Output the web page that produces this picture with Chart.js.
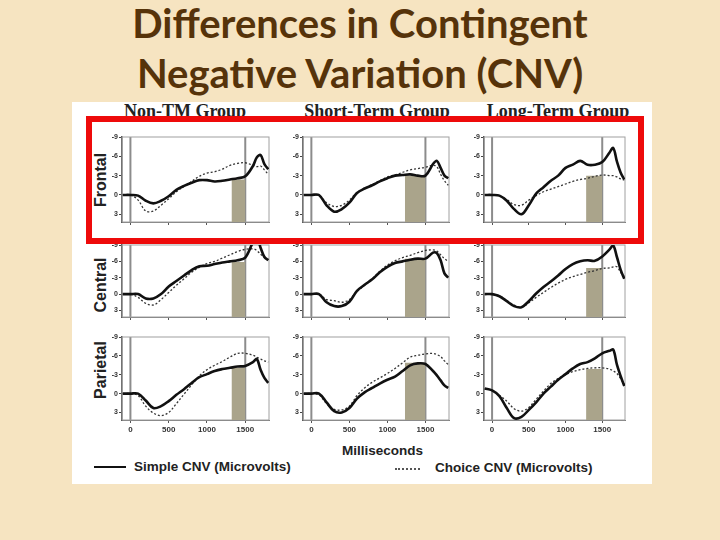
<!DOCTYPE html>
<html>
<head>
<meta charset="utf-8">
<script src="https://cdn.jsdelivr.net/npm/chart.js@4.4.7/dist/chart.umd.min.js"></script>
<style>
  body { margin: 0; width: 720px; height: 540px; background: #f6e4c1; position: relative; overflow: hidden; font-family: "Liberation Sans", Arial, sans-serif; }
  .title { position: absolute; left: 0; width: 720px; text-align: center; font-family: Lato, "Open Sans", sans-serif; font-weight: 700; font-size: 40px; color: #56330a; line-height: 46px; }
  #sheet { position: absolute; left: 72px; top: 102px; width: 580px; height: 382px; background: #fff; }
  .grp { position: absolute; top: 101px; font-family: "Liberation Serif", "Times New Roman", serif; font-weight: 700; font-size: 18px; color: #222; text-align: center; width: 190px; }
  .reg { position: absolute; font-weight: 700; font-size: 16px; color: #222; transform: translate(-50%, -50%) rotate(-90deg); white-space: nowrap; }
  .panel { position: absolute; }
  #redbox { position: absolute; left: 86px; top: 116px; width: 546px; height: 116px; border: 6px solid #ee0a0a; }
  .small { position: absolute; font-weight: 700; font-size: 13.5px; color: #222; white-space: nowrap; }
</style>
</head>
<body>
<div class="title" style="top:0px">Differences in Contingent</div>
<div class="title" style="top:50px">Negative Variation (CNV)</div>
<div id="sheet"></div>
<div id="heads"></div>
<div id="panels"></div>
<div class="small" style="left:342px; top:443px">Milliseconds</div>
<div style="position:absolute; left:94px; top:466px; width:32px; border-top:2px solid #111"></div>
<div class="small" style="left:134px; top:459px">Simple CNV (Microvolts)</div>
<div style="position:absolute; left:395px; top:468px; width:25px; border-top:2px dotted #555"></div>
<div class="small" style="left:435px; top:460px">Choice CNV (Microvolts)</div>
<div id="redbox"></div>
<script>
const times = [-100, 0, 100, 200, 300, 400, 500, 600, 700, 800, 900, 1000, 1100, 1200, 1300, 1400, 1500, 1600, 1650, 1700, 1750, 1800];
const groups = ["Non-TM Group", "Short-Term Group", "Long-Term Group"];
const regions = ["Frontal", "Central", "Parietal"];
const yTicks = [-9, -6, -3, 0, 3];
const xTicks = [0, 500, 1000, 1500];
const markerTimes = [0, 1500];

// Frontal
const nonTmFrontalSimple = [0, 0, 0.1, 0.9, 1.3, 0.9, 0.2, -0.8, -1.4, -1.9, -2.3, -2.3, -2.1, -2.2, -2.4, -2.6, -2.9, -4.5, -5.8, -6.2, -4.8, -4.0];
const nonTmFrontalChoice = [0, 0, 0.8, 2.5, 2.5, 1.6, 0.6, -0.5, -1.3, -2.1, -2.9, -3.4, -3.6, -4.0, -4.6, -4.9, -5.0, -4.6, -4.4, -4.5, -3.9, -3.2];
const shortFrontalSimple = [0, 0, 0, 1.6, 2.6, 2.2, 1.2, -0.3, -1.0, -1.5, -2.1, -2.6, -3.0, -3.1, -3.2, -3.0, -3.0, -4.8, -5.3, -4.2, -3.0, -2.6];
const shortFrontalChoice = [0, 0, 0.1, 1.2, 1.8, 1.6, 0.8, -0.4, -1.0, -1.6, -2.2, -2.8, -3.1, -3.5, -3.9, -4.1, -4.3, -4.6, -4.4, -3.2, -2.2, -1.5];
const longFrontalSimple = [0, 0, 0.1, 0.9, 2.2, 3.0, 1.6, -0.2, -1.2, -2.2, -3.0, -4.2, -4.7, -5.3, -4.7, -4.7, -5.1, -6.6, -7.3, -5.2, -3.5, -2.4];
const longFrontalChoice = [0, 0, 0.1, 0.7, 1.5, 1.6, 0.8, 0.1, -0.5, -0.9, -1.3, -1.7, -2.1, -2.4, -2.6, -2.9, -3.1, -3.0, -3.0, -2.8, -2.5, -2.3];
// Central
const nonTmCentralSimple = [0, 0, 0, 0.8, 0.8, 0.0, -1.4, -2.4, -3.4, -4.4, -5.1, -5.2, -5.5, -5.8, -6.0, -6.2, -6.7, -9.5, -10.5, -8.5, -6.8, -6.2];
const nonTmCentralChoice = [0, 0, 0.6, 1.7, 2.0, 1.0, -0.3, -1.6, -2.8, -4.0, -4.9, -5.6, -6.0, -6.6, -7.2, -7.8, -8.2, -8.3, -8.0, -7.3, -6.8, -6.5];
const shortCentralSimple = [0, 0, 0, 1.5, 2.2, 2.2, 1.4, -0.6, -1.7, -2.7, -4.0, -5.0, -5.7, -6.0, -6.3, -6.5, -6.5, -7.6, -7.5, -6.2, -3.8, -3.0];
const shortCentralChoice = [0, 0, 0, 1.0, 1.2, 1.5, 1.0, -0.5, -1.6, -2.8, -4.2, -5.3, -6.1, -6.7, -7.1, -7.6, -8.0, -8.1, -7.9, -7.2, -6.5, -6.0];
const longCentralSimple = [0, 0, 0.4, 1.3, 2.2, 2.4, 1.3, -0.1, -1.3, -2.3, -3.4, -4.6, -5.5, -6.0, -6.2, -6.1, -6.9, -8.2, -8.9, -6.8, -4.5, -2.8];
const longCentralChoice = [0, 0, 0.3, 1.2, 2.0, 2.4, 1.6, 0.6, -0.3, -1.2, -2.0, -2.7, -3.2, -3.6, -4.0, -4.3, -4.7, -4.8, -5.0, -5.0, -4.0, -3.2];
// Parietal
const nonTmParietalSimple = [0, 0, 0, 1.1, 2.3, 2.0, 1.2, 0.2, -0.7, -1.7, -2.6, -3.1, -3.6, -3.9, -4.1, -4.3, -4.4, -5.0, -5.5, -3.8, -2.5, -1.7];
const nonTmParietalChoice = [0, 0, 0.3, 2.0, 3.1, 3.5, 3.0, 1.6, 0.1, -1.4, -2.8, -3.8, -4.5, -5.1, -5.8, -6.4, -6.4, -6.1, -5.8, -5.5, -5.2, -5.0];
const shortParietalSimple = [0, 0, 0, 1.4, 2.8, 3.0, 2.3, 0.8, -0.2, -0.9, -1.6, -2.2, -2.7, -3.6, -4.5, -4.8, -4.7, -3.6, -2.9, -2.1, -1.3, -0.9];
const shortParietalChoice = [0, 0, 0.2, 1.6, 2.5, 2.6, 2.0, 0.3, -0.9, -1.8, -2.5, -3.2, -4.0, -4.9, -5.8, -6.1, -6.3, -6.4, -6.2, -5.9, -5.2, -4.6];
const longParietalSimple = [-0.8, -0.5, 0.4, 2.3, 3.9, 3.7, 2.6, 1.4, 0.0, -1.1, -2.2, -3.1, -4.0, -4.7, -5.0, -5.6, -6.4, -6.8, -7.0, -4.6, -2.8, -1.2];
const longParietalChoice = [-0.8, -0.5, 0.3, 1.2, 2.4, 2.8, 2.2, 0.9, -0.4, -1.6, -2.4, -3.0, -3.5, -3.8, -4.0, -4.1, -4.1, -3.9, -3.6, -3.2, -2.4, -1.5];

const simpleRows = [
  [nonTmFrontalSimple, shortFrontalSimple, longFrontalSimple],
  [nonTmCentralSimple, shortCentralSimple, longCentralSimple],
  [nonTmParietalSimple, shortParietalSimple, longParietalSimple]
];
const choiceRows = [
  [nonTmFrontalChoice, shortFrontalChoice, longFrontalChoice],
  [nonTmCentralChoice, shortCentralChoice, longCentralChoice],
  [nonTmParietalChoice, shortParietalChoice, longParietalChoice]
];
const shadeStart = [1320, 1230, 1280];
const shadeTop = [[-2.4, -3.0, -3.0], [-5.9, -6.5, -4.8], [-4.1, -4.9, -3.9]];

// plot-area geometry (pixels)
const colLeft = [122, 303, 484], colRight = [269, 449, 625];
const rowTop = [137, 245, 337], rowBottom = [222, 317, 420];
const rowLabelY = [180, 285, 370];
const headX = [185, 377, 558];
const Y_MIN = -9, Y_MAX = 4.2;

const heads = document.getElementById("heads");
groups.forEach((g, i) => {
  const d = document.createElement("div");
  d.className = "grp"; d.textContent = g;
  d.style.left = (headX[i] - 95) + "px";
  heads.appendChild(d);
});
regions.forEach((r, i) => {
  const d = document.createElement("div");
  d.className = "reg"; d.textContent = r;
  d.style.left = "101px"; d.style.top = rowLabelY[i] + "px";
  heads.appendChild(d);
});

const framePlugin = {
  id: "frame",
  beforeDatasetsDraw(chart) {
    const { ctx, chartArea: a, scales: { x } } = chart;
    ctx.save();
    ctx.strokeStyle = "#8c8c8c";
    ctx.lineWidth = 2;
    markerTimes.forEach(t => {
      const px = x.getPixelForValue(t);
      ctx.beginPath(); ctx.moveTo(px, a.top); ctx.lineTo(px, a.bottom); ctx.stroke();
    });
    ctx.lineWidth = 1;
    ctx.strokeStyle = "#a0a0a0";
    ctx.strokeRect(a.left, a.top, a.right - a.left, a.bottom - a.top);
    ctx.restore();
  }
};

const PADL = 20, PADT = 6, AXB = 14, PADR = 3;
const panels = document.getElementById("panels");
for (let r = 0; r < 3; r++) {
  for (let c = 0; c < 3; c++) {
    const w = colRight[c] - colLeft[c], h = rowBottom[r] - rowTop[r];
    const box = document.createElement("div");
    box.className = "panel";
    box.style.left = (colLeft[c] - PADL) + "px";
    box.style.top = (rowTop[r] - PADT) + "px";
    box.style.width = (w + PADL + PADR) + "px";
    box.style.height = (h + PADT + AXB) + "px";
    const cv = document.createElement("canvas");
    box.appendChild(cv);
    panels.appendChild(box);
    const last = r === 2;
    new Chart(cv, {
      type: "line",
      data: {
        labels: times,
        datasets: [
          { data: times.map((t, i) => ({ x: t, y: simpleRows[r][c][i] })), borderColor: "#111", borderWidth: 2.6, pointRadius: 0, tension: 0.35 },
          { data: times.map((t, i) => ({ x: t, y: choiceRows[r][c][i] })), borderColor: "#333", borderWidth: 1.3, borderDash: [2, 2], pointRadius: 0, tension: 0.35 },
          { data: [{ x: shadeStart[c], y: shadeTop[r][c] }, { x: 1500, y: shadeTop[r][c] }], borderWidth: 0, pointRadius: 0, fill: { value: Y_MAX }, backgroundColor: "#aaa48b" }
        ]
      },
      options: {
        responsive: true, maintainAspectRatio: false, animation: false,
        layout: { padding: { top: PADT, right: PADR, left: 0, bottom: 0 } },
        plugins: { legend: { display: false }, tooltip: { enabled: false } },
        scales: {
          x: {
            type: "linear", min: -110, max: 1810,
            afterBuildTicks: s => { s.ticks = xTicks.map(v => ({ value: v })); },
            afterFit: s => { s.height = AXB; },
            grid: { display: true, drawOnChartArea: false, tickLength: 3, color: "#555" },
            border: { color: "#777", width: 1 },
            ticks: { display: last, padding: 2, callback: v => String(v), font: { size: 8, weight: "bold", family: "Liberation Sans" }, color: "#333" }
          },
          y: {
            reverse: true, min: Y_MIN, max: Y_MAX,
            afterBuildTicks: s => { s.ticks = yTicks.map(v => ({ value: v })); },
            afterFit: s => { s.width = PADL; },
            grid: { display: true, drawOnChartArea: false, tickLength: 3, color: "#444" },
            border: { color: "#444", width: 1.5 },
            ticks: { padding: 1, callback: v => String(v), font: { size: 7, weight: "bold", family: "Liberation Sans" }, color: "#333" }
          }
        }
      },
      plugins: [framePlugin]
    });
  }
}
</script>
</body>
</html>
